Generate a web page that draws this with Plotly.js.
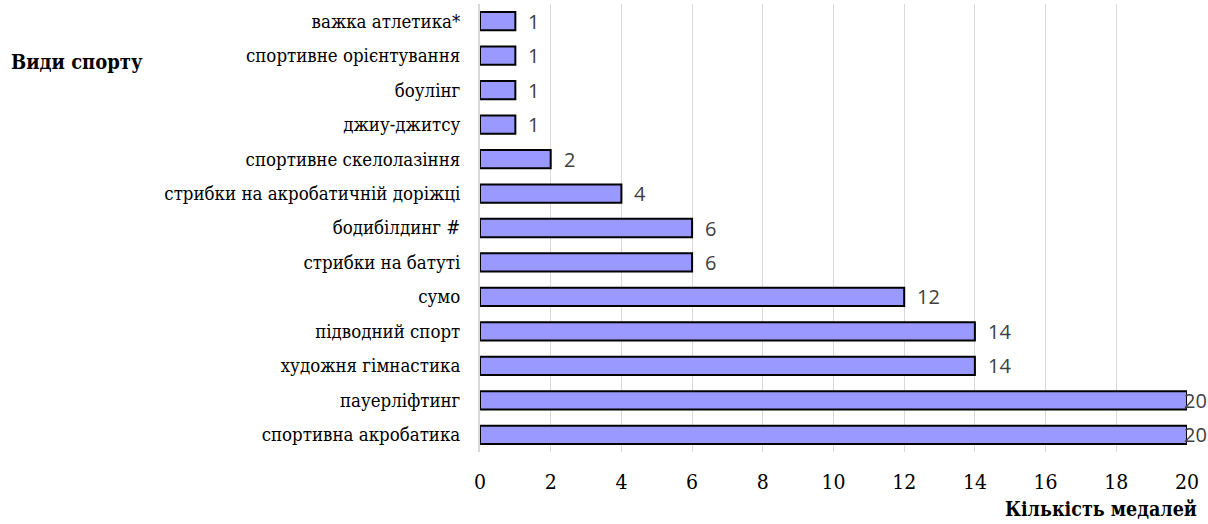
<!DOCTYPE html>
<html>
<head>
<meta charset="utf-8">
<script src="https://cdn.plot.ly/plotly-3.0.1.min.js"></script>
<style>html,body{margin:0;padding:0;background:#fff;}#chart{width:1208px;height:524px;}</style>
</head>
<body>
<div id="chart"></div>
<script>
const categories = [
  "важка атлетика*",
  "спортивне орієнтування",
  "боулінг",
  "джиу-джитсу",
  "спортивне скелолазіння",
  "стрибки на акробатичній доріжці",
  "бодибілдинг #",
  "стрибки на батуті",
  "сумо",
  "підводний спорт",
  "художня гімнастика",
  "пауерліфтинг",
  "спортивна акробатика"
];
const medals = [1, 1, 1, 1, 2, 4, 6, 6, 12, 14, 14, 20, 20];
const xTicks = [0, 2, 4, 6, 8, 10, 12, 14, 16, 18, 20];
const yTitle = "Види спорту";
const xTitle = "Кількість медалей";

const SERIFC = 'DejaVu Serif Condensed, DejaVu Serif';
const XMAX = 20;

const trace = {
  type: 'bar',
  orientation: 'h',
  y: categories,
  x: medals,
  width: 0.53,
  marker: {color: '#9999FF', line: {color: '#000000', width: 2}},
  cliponaxis: false,
  hoverinfo: 'none'
};

// data labels, placed on the data coordinates of each bar end
const labelAnns = medals.map((v, i) => ({
  x: v, y: categories[i], xref: 'x', yref: 'y',
  text: String(v), showarrow: false,
  xanchor: 'left', yanchor: 'middle',
  xshift: v >= XMAX ? -5 : 11,
  font: {family: 'Open Sans', size: 20, color: '#404040'}
}));

const layout = {
  width: 1208, height: 524,
  margin: {l: 480, r: 21, t: 4, b: 72},
  paper_bgcolor: '#ffffff', plot_bgcolor: '#ffffff',
  showlegend: false,
  xaxis: {
    range: [0, XMAX],
    tickvals: xTicks,
    ticktext: xTicks.map(String),
    showgrid: true, gridcolor: '#d9d9d9', gridwidth: 1,
    zeroline: false, showline: false,
    ticks: '', ticklabelstandoff: 15,
    tickfont: {family: SERIFC, size: 21, color: '#000000'},
    fixedrange: true
  },
  yaxis: {
    autorange: 'reversed',
    showgrid: false, zeroline: false,
    showline: true, linecolor: '#d9d9d9', linewidth: 2,
    ticks: '', ticklabelstandoff: 14,
    tickfont: {family: SERIFC, size: 18.5, color: '#000000'},
    fixedrange: true
  },
  annotations: labelAnns.concat([
    {text: '<b>' + yTitle + '</b>', xref: 'paper', yref: 'paper', x: -480/707, y: 1, xanchor: 'left', yanchor: 'top',
     yshift: -44, xshift: 9, showarrow: false,
     font: {family: SERIFC, size: 20, color: '#000000'}},
    {text: '<b>' + xTitle + '</b>', xref: 'paper', yref: 'paper', x: 1, y: 0, xanchor: 'right', yanchor: 'bottom',
     xshift: 12, yshift: -71, showarrow: false,
     font: {family: SERIFC, size: 19.5, color: '#000000'}}
  ])
};

Plotly.newPlot('chart', [trace], layout, {displayModeBar: false, staticPlot: true});
</script>
</body>
</html>
